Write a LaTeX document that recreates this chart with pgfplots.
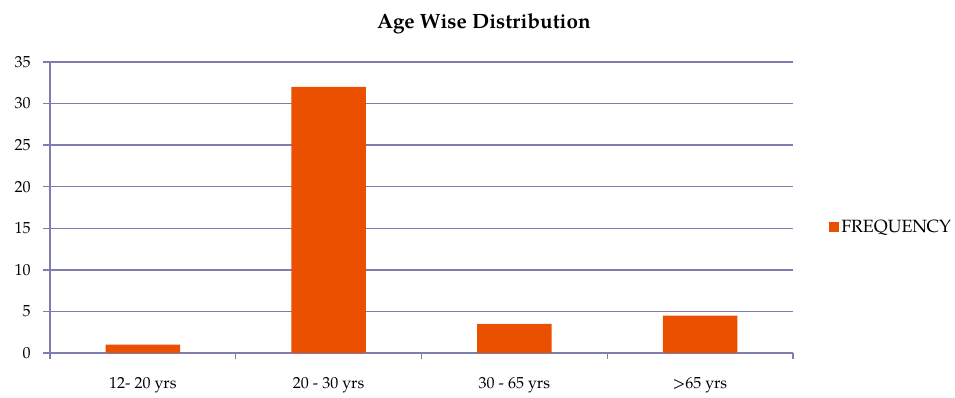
\documentclass[border=0pt]{standalone}
\usepackage{fontspec}
\setmainfont{TeX Gyre Pagella}
\usepackage{pgfplots}
\pgfplotsset{compat=1.18}
\definecolor{barc}{RGB}{234,80,0}
\definecolor{axc}{RGB}{125,125,175}
\begin{document}
\begin{tikzpicture}
\useasboundingbox (-37.5pt,-33.75pt) rectangle (678.75pt,264.75pt);
\begin{axis}[
  at={(0,0)}, anchor=south west,
  scale only axis, width=557.25pt, height=218.25pt,
  xmin=-0.5, xmax=3.5, ymin=0, ymax=35,
  ytick={0,5,...,35},
  xtick={0,1,2,3},
  xticklabels={12- 20 yrs,20 - 30 yrs,30 - 65 yrs,>65 yrs},
  minor xtick={-0.5,0.5,1.5,2.5,3.5},
  major x tick style={draw=none},
  minor tick length=4.5pt,
  major tick length=5pt,
  tick align=outside,
  axis x line*=bottom, axis y line*=left,
  axis line style={axc, line width=1pt},
  every tick/.style={axc, line width=1pt},
  ymajorgrids, grid style={axc, line width=1pt},
  font=\fontsize{12}{14}\selectfont,
  /pgf/number format/assume math mode=true,
  xticklabel style={yshift=-10pt},
  yticklabel style={xshift=-6pt},
  title={Age Wise Distribution},
  title style={at={(rel axis cs:0.584,1)}, anchor=center, yshift=22.5pt, font=\fontsize{15.5}{18}\selectfont\bfseries},
  legend style={at={(rel axis cs:1,0.433)}, anchor=west, xshift=24pt, draw=none, fill=none, font=\fontsize{13.3}{15}\selectfont},
  legend image code/.code={\fill[barc] (0pt,-3.5pt) rectangle (7pt,3.5pt);},
]
\addplot[ybar, bar width=0.4, fill=barc, draw=none, bar shift=0pt] coordinates {(0,1) (1,32) (2,3.5) (3,4.5)};
\addlegendentry{FREQUENCY}
\end{axis}
\end{tikzpicture}
\end{document}
